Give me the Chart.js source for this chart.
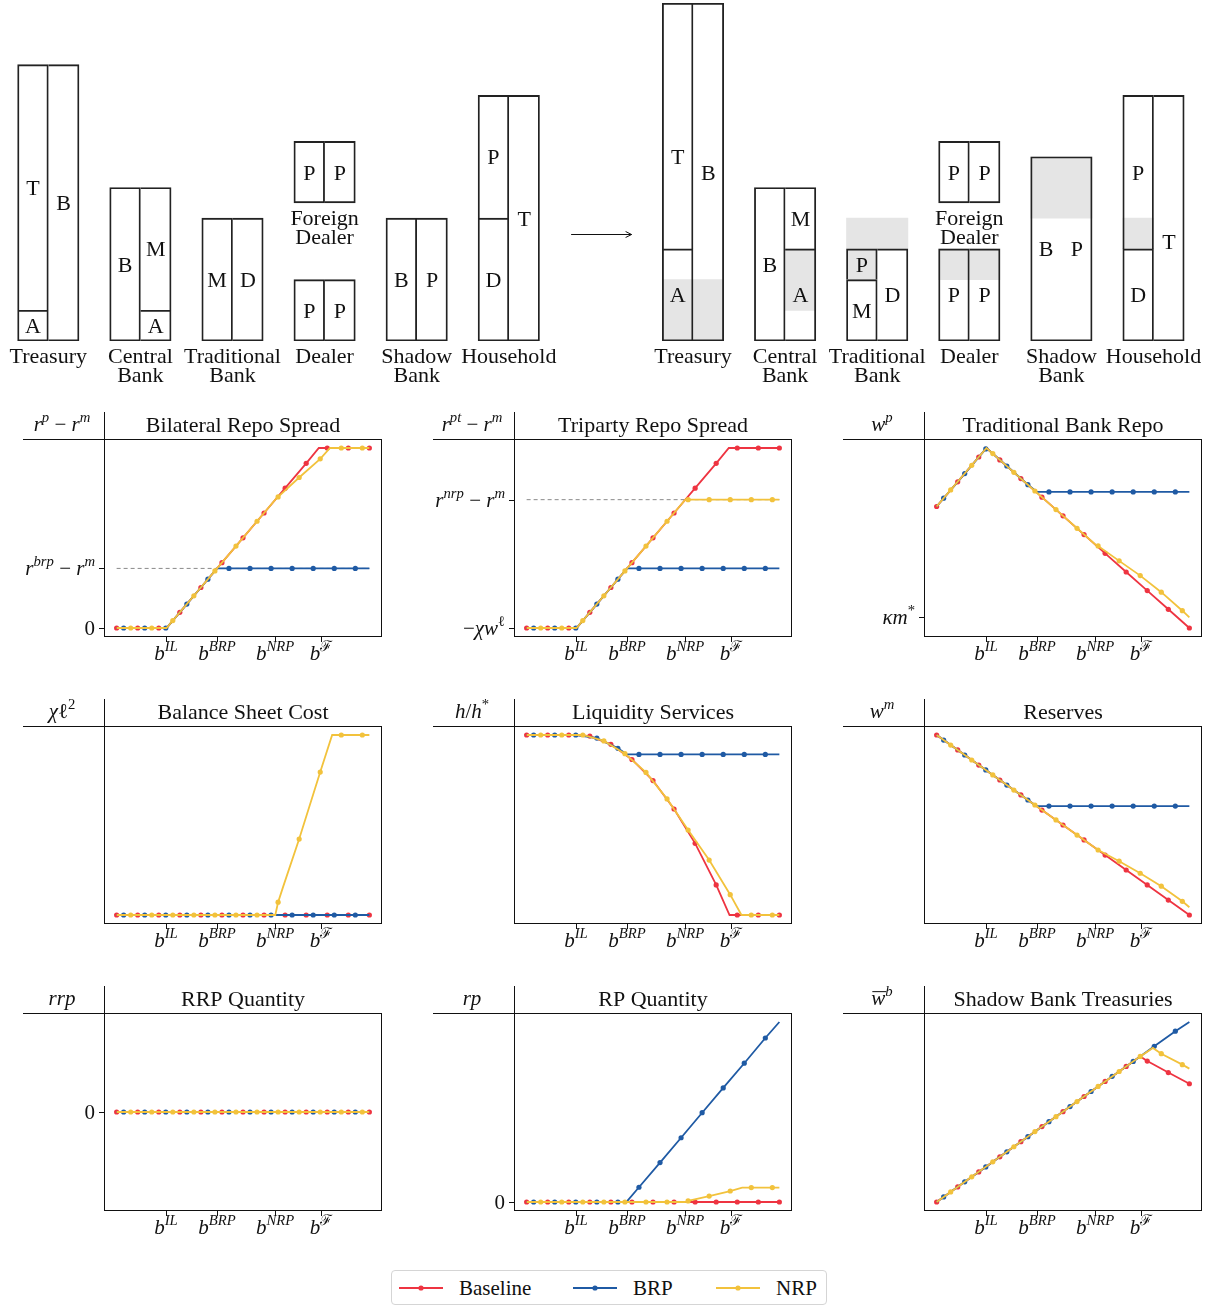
<!DOCTYPE html>
<html>
<head>
<meta charset="utf-8">
<title>Balance sheets and repo outcomes</title>
<script src="https://cdn.jsdelivr.net/npm/chart.js@4.4.1/dist/chart.umd.min.js"></script>
<style>
  body { margin: 0; background: #fff; }
  #page { position: relative; width: 1217px; height: 1309px; overflow: hidden; background: #fff; }
  #page canvas { position: absolute; }
  #legend { position: absolute; left: 391px; top: 1270px; width: 434px; height: 33px;
            border: 1px solid #d5d5d5; border-radius: 4px;
            font: 21px "Liberation Serif", serif; color: #111; }
  #legend .item { position: absolute; top: 0; height: 33px; }
  #legend svg { position: absolute; left: 0; top: 12px; }
  #legend span { position: absolute; left: 60px; top: 5px; white-space: nowrap; }
</style>
</head>
<body>
<div id="page">
  <canvas id="sheets" width="1217" height="400" style="left:0;top:0"></canvas>
  <canvas id="p1" width="397" height="272" style="left:0;top:399px"></canvas>
  <canvas id="p2" width="397" height="272" style="left:410px;top:399px"></canvas>
  <canvas id="p3" width="397" height="272" style="left:820px;top:399px"></canvas>
  <canvas id="p4" width="397" height="272" style="left:0;top:686px"></canvas>
  <canvas id="p5" width="397" height="272" style="left:410px;top:686px"></canvas>
  <canvas id="p6" width="397" height="272" style="left:820px;top:686px"></canvas>
  <canvas id="p7" width="397" height="272" style="left:0;top:973px"></canvas>
  <canvas id="p8" width="397" height="272" style="left:410px;top:973px"></canvas>
  <canvas id="p9" width="397" height="272" style="left:820px;top:973px"></canvas>
  <div id="legend"></div>
</div>
<script>
// ---- series / axes ----
const seriesNames = ['Baseline', 'BRP', 'NRP'];
const seriesColors = ['#ee3441', '#1f5aa4', '#f2c23c'];
const xTickVals = [7.1, 14.3, 22.6, 29.05];
const xTickText = ['b^{IL}', 'b^{BRP}', 'b^{NRP}', 'b^{ℱ}'];
const panelTitles = ['Bilateral Repo Spread', 'Triparty Repo Spread', 'Traditional Bank Repo',
  'Balance Sheet Cost', 'Liquidity Services', 'Reserves',
  'RRP Quantity', 'RP Quantity', 'Shadow Bank Treasuries'];
const panelYLabels = ['r^{p} − r^{m}', 'r^{pt} − r^{m}', 'w^{p}',
  'χℓ^{2}', 'h/h^{*}', 'w^{m}', 'rrp', 'rp', '‾w^{b}'];

// markers: Baseline at 0,3,..,36 / BRP at 1,4,..,34 / NRP at 2,5,..,35; kinks are unmarked vertices
const bilatBase = [0, 0, 0, 8.7, 22.5, 36.3, 50.1, 63.9, 77.7, 91.5, 100, 100, 100];
const bilatBaseKinks = [[7.1, 0], [28.8, 100]];
const bilatBrp = [0, 0, 0, 13.3, 27.1, 33.1, 33.1, 33.1, 33.1, 33.1, 33.1, 33.1];
const bilatBrpKinks = [[0, 0], [7.1, 0], [14.3, 33.1], [36, 33.1]];
const bilatNrp = [0, 0, 4.1, 17.9, 31.7, 45.5, 59.3, 72.8, 83.6, 94.0, 100, 100];
const bilatNrpKinks = [[0, 0], [7.1, 0], [22.6, 71.3], [30.4, 100], [36, 100]];
const bilatRef = 33.1;

const triBase = [0, 0, 0, 8.7, 22.5, 36.3, 50.1, 63.9, 77.7, 91.5, 100, 100, 100];
const triBaseKinks = [[7.1, 0], [28.8, 100]];
const triBrp = [0, 0, 0, 13.3, 27.1, 33.1, 33.1, 33.1, 33.1, 33.1, 33.1, 33.1];
const triBrpKinks = [[0, 0], [7.1, 0], [14.3, 33.1], [36, 33.1]];
const triNrp = [0, 0, 4.1, 17.9, 31.7, 45.5, 59.3, 71.3, 71.3, 71.3, 71.3, 71.3];
const triNrpKinks = [[0, 0], [7.1, 0], [22.6, 71.3], [36, 71.3]];
const triRef = 71.3;

const repoBase = [67.5, 81.2, 95.0, 93.4, 83.0, 72.7, 62.3, 51.9, 41.5, 31.1, 20.8, 10.4, 0];
const repoBaseKinks = [[7.1, 100]];
const repoBrp = [72.1, 85.8, 99.5, 90.0, 79.6, 75.6, 75.6, 75.6, 75.6, 75.6, 75.6, 75.6];
const repoBrpKinks = [[0, 67.5], [7.1, 100], [14.3, 75.6], [36, 75.6]];
const repoNrp = [76.7, 90.4, 96.9, 86.5, 76.1, 65.8, 55.4, 45.6, 37.3, 29.1, 19.9, 9.6];
const repoNrpKinks = [[0, 67.5], [7.1, 100], [22.6, 46.4], [36, 5.9]];
const repoTick = 5.9;

const costBase = [0, 0, 0, 0, 0, 0, 0, 0, 0, 0, 0, 0, 0];
const costBrp = [0, 0, 0, 0, 0, 0, 0, 0, 0, 0, 0, 0];
const costBrpKinks = [[0, 0], [36, 0]];
const costNrp = [0, 0, 0, 0, 0, 0, 0, 7.1, 42.2, 79.4, 100, 100];
const costNrpKinks = [[0, 0], [22.6, 0], [23.7, 15.5], [30.7, 100], [36, 100]];

const liqBase = [100, 100, 100, 99.4, 94.8, 86.4, 74.7, 58.9, 39.8, 16.7, 0, 0, 0];
const liqBaseKinks = [[7.1, 100], [28.9, 0]];
const liqBrp = [100, 100, 100, 98.3, 92.6, 89.2, 89.2, 89.2, 89.2, 89.2, 89.2, 89.2];
const liqBrpKinks = [[0, 100], [7.1, 100], [14.3, 89.2], [36, 89.2]];
const liqNrp = [100, 100, 100, 96.7, 89.6, 79.2, 64.5, 47.2, 30.5, 11.3, 0, 0];
const liqNrpKinks = [[0, 100], [7.1, 100], [30.6, 0], [36, 0]];

const resBase = [100, 91.7, 83.3, 75.0, 66.7, 58.3, 50.0, 41.7, 33.3, 25.0, 16.7, 8.3, 0];
const resBrp = [97.2, 88.9, 80.6, 72.2, 63.9, 60.5, 60.5, 60.5, 60.5, 60.5, 60.5, 60.5];
const resBrpKinks = [[0, 100], [14.2, 60.5], [36, 60.5]];
const resNrp = [94.4, 86.1, 77.8, 69.4, 61.1, 52.8, 44.4, 36.1, 29.9, 23.2, 16.0, 7.6];
const resNrpKinks = [[0, 100], [22.6, 37.2], [36, 4.3]];

const rrpBase = [0, 0, 0, 0, 0, 0, 0, 0, 0, 0, 0, 0, 0];
const rrpBrp = [0, 0, 0, 0, 0, 0, 0, 0, 0, 0, 0, 0];
const rrpNrp = [0, 0, 0, 0, 0, 0, 0, 0, 0, 0, 0, 0];
const rrpEnds = [[0, 0], [36, 0]];

const rpBase = [0, 0, 0, 0, 0, 0, 0, 0, 0, 0, 0, 0, 0];
const rpBrp = [0, 0, 0, 0, 0, 8.2, 21.9, 35.7, 49.6, 63.4, 77.1, 91.1];
const rpBrpKinks = [[0, 0], [14.2, 0], [36, 100]];
const rpNrp = [0, 0, 0, 0, 0, 0, 0, 0.6, 3.3, 6.1, 8.0, 8.0];
const rpNrpKinks = [[0, 0], [22.6, 0], [30.7, 8.0], [36, 8.0]];

const sbtBase = [0, 8.4, 16.7, 25.1, 33.5, 41.9, 50.2, 58.6, 67.0, 75.3, 78.3, 71.9, 65.7];
const sbtBaseKinks = [[29.0, 80.9]];
const sbtBrp = [2.8, 11.2, 19.5, 27.9, 36.3, 44.6, 53.0, 61.4, 69.8, 78.1, 86.5, 94.9];
const sbtBrpKinks = [[0, 0], [36, 100]];
const sbtNrp = [5.6, 14.0, 22.3, 30.7, 39.1, 47.4, 55.8, 64.2, 72.5, 80.9, 82.4, 76.3];
const sbtNrpKinks = [[0, 0], [30.8, 85.6], [36, 74.1]];

// ---- balance sheets: [entity, column (A assets / L liabilities), item, from, to, label level] ----
const sheetBefore = [
  ['Treasury', 'A', 'A', 0, 1], ['Treasury', 'A', 'T', 1, 9], ['Treasury', 'L', 'B', 0, 9],
  ['Central\nBank', 'A', 'B', 0, 5], ['Central\nBank', 'L', 'A', 0, 1], ['Central\nBank', 'L', 'M', 1, 5],
  ['Traditional\nBank', 'A', 'M', 0, 4], ['Traditional\nBank', 'L', 'D', 0, 4],
  ['Foreign\nDealer', 'A', 'P', 4.5, 6.5], ['Foreign\nDealer', 'L', 'P', 4.5, 6.5],
  ['Dealer', 'A', 'P', 0, 2], ['Dealer', 'L', 'P', 0, 2],
  ['Shadow\nBank', 'A', 'B', 0, 4], ['Shadow\nBank', 'L', 'P', 0, 4],
  ['Household', 'A', 'D', 0, 4], ['Household', 'A', 'P', 4, 8], ['Household', 'L', 'T', 0, 8]
];
const sheetAfter = [
  ['Treasury', 'A', 'A', 0, 3], ['Treasury', 'A', 'T', 3, 11, 6], ['Treasury', 'L', 'B', 0, 11],
  ['Central\nBank', 'A', 'B', 0, 5], ['Central\nBank', 'L', 'A', 0, 3], ['Central\nBank', 'L', 'M', 3, 5],
  ['Traditional\nBank', 'A', 'M', 0, 2], ['Traditional\nBank', 'A', 'P', 2, 3], ['Traditional\nBank', 'L', 'D', 0, 3],
  ['Foreign\nDealer', 'A', 'P', 4.5, 6.5], ['Foreign\nDealer', 'L', 'P', 4.5, 6.5],
  ['Dealer', 'A', 'P', 0, 3], ['Dealer', 'L', 'P', 0, 3],
  ['Shadow\nBank', 'A', 'B', 0, 6], ['Shadow\nBank', 'L', 'P', 0, 6],
  ['Household', 'A', 'D', 0, 3], ['Household', 'A', 'P', 3, 8], ['Household', 'L', 'T', 0, 8, 3.25]
];
const shadeAfter = [
  ['Treasury', 'AL', 0, 2], ['Central\nBank', 'L', 1, 3], ['Traditional\nBank', 'AL', 3, 4],
  ['Traditional\nBank', 'A', 2, 3], ['Dealer', 'AL', 2, 3], ['Shadow\nBank', 'AL', 4, 6], ['Household', 'A', 3, 4]
];
const openAfter = ['Shadow\nBank'];

// ---- drawing helpers ----
const INK = '#111';
const SERIF = '"Liberation Serif", "DejaVu Serif", serif';

function mathRuns(str) {
  const runs = [];
  let i = 0, bar = false;
  while (i < str.length) {
    const c = str[i];
    if (c === '^' && str[i + 1] === '{') {
      const j = str.indexOf('}', i);
      for (const ch of str.slice(i + 2, j)) runs.push({ch, sup: true});
      i = j + 1;
      continue;
    }
    if (c === '‾') { bar = true; i++; continue; }
    runs.push({ch: c, sup: false, bar});
    bar = false;
    i++;
  }
  return runs;
}

function drawMath(ctx, str, x, y, size, align) {
  const runs = mathRuns(str);
  let w = 0;
  runs.forEach(r => {
    const s = r.sup ? size * 0.7 : size;
    r.font = (/[A-Za-z\u03b1-\u03c9]/.test(r.ch) ? 'italic ' : '') + s + 'px ' + SERIF;
    ctx.font = r.font;
    r.w = ctx.measureText(r.ch).width;
    w += r.w;
  });
  let cx = align === 'center' ? x - w / 2 : align === 'right' ? x - w : x;
  ctx.textAlign = 'left';
  ctx.textBaseline = 'alphabetic';
  runs.forEach(r => {
    ctx.font = r.font;
    const yy = r.sup ? y - size * 0.42 : y;
    ctx.fillText(r.ch, cx, yy);
    if (r.bar) ctx.fillRect(cx + 1, yy - size * 0.66, r.w, 1);
    cx += r.w;
  });
}

function hline(ctx, x1, x2, y) {
  ctx.beginPath(); ctx.moveTo(x1, y + 0.5); ctx.lineTo(x2, y + 0.5); ctx.stroke();
}
function vline(ctx, x, y1, y2) {
  ctx.beginPath(); ctx.moveTo(x + 0.5, y1); ctx.lineTo(x + 0.5, y2); ctx.stroke();
}

function seriesPoints(vals, offset, kinks) {
  const pts = vals.map((v, i) => ({x: offset + 3 * i, y: v, m: true}));
  (kinks || []).forEach(k => {
    if (!pts.some(p => p.x === k[0])) pts.push({x: k[0], y: k[1], m: false});
  });
  return pts.sort((a, b) => a.x - b.x);
}

function panelDeco(title, ylab, yticks) {
  return {
    id: 'deco',
    afterDraw(chart) {
      const {ctx, chartArea: a, scales: {x, y}} = chart;
      ctx.save();
      ctx.strokeStyle = INK;
      ctx.fillStyle = INK;
      ctx.lineWidth = 1;
      ctx.strokeRect(a.left + 0.5, a.top + 0.5, a.right - a.left - 1, a.bottom - a.top - 1);
      hline(ctx, a.left - 81, a.right, a.top);
      vline(ctx, a.left, a.top - 27, a.top);
      xTickVals.forEach((v, i) => {
        const px = Math.round(x.getPixelForValue(v));
        vline(ctx, px, a.bottom, a.bottom + 5);
        drawMath(ctx, xTickText[i], px, a.bottom + 23, 21, 'center');
      });
      yticks.forEach(([v, s]) => {
        const py = Math.round(y.getPixelForValue(v));
        hline(ctx, a.left - 5, a.left, py);
        drawMath(ctx, s, a.left - 9, py + 7, 21, 'right');
      });
      ctx.font = '22px ' + SERIF;
      ctx.textAlign = 'center';
      ctx.textBaseline = 'alphabetic';
      ctx.fillText(title, (a.left + a.right) / 2, a.top - 7);
      drawMath(ctx, ylab, a.left - 42, a.top - 8, 21, 'center');
      ctx.restore();
    }
  };
}

function makePanel(id, idx, sets, yticks, ref, yRange) {
  const datasets = sets.map((s, k) => ({
    label: seriesNames[k],
    data: seriesPoints(s[0], k, s[1]),
    borderColor: seriesColors[k],
    backgroundColor: seriesColors[k],
    borderWidth: 1.8,
    pointRadius: c => (c.raw && c.raw.m) ? 2.6 : 0,
    pointBorderWidth: 0,
    tension: 0,
    order: 3 - k
  }));
  if (ref !== null) {
    datasets.push({
      label: 'ref', data: [{x: 0, y: ref}, {x: 36, y: ref}],
      borderColor: '#8a8a8a', borderWidth: 1, borderDash: [4, 3], pointRadius: 0, order: 5
    });
  }
  return new Chart(document.getElementById(id), {
    type: 'line',
    data: {datasets},
    options: {
      responsive: false, animation: false, devicePixelRatio: 1,
      layout: {padding: {left: 104, right: 15, top: 40, bottom: 34}},
      scales: {
        x: {type: 'linear', display: false, min: -1.8, max: 37.8},
        y: {type: 'linear', display: false, min: yRange[0], max: yRange[1]}
      },
      plugins: {legend: {display: false}, tooltip: {enabled: false}}
    },
    plugins: [panelDeco(panelTitles[idx], panelYLabels[idx], yticks)]
  });
}

const full = [-5, 105];
makePanel('p1', 0, [[bilatBase, bilatBaseKinks], [bilatBrp, bilatBrpKinks], [bilatNrp, bilatNrpKinks]],
  [[0, '0'], [bilatRef, 'r^{brp} − r^{m}']], bilatRef, full);
makePanel('p2', 1, [[triBase, triBaseKinks], [triBrp, triBrpKinks], [triNrp, triNrpKinks]],
  [[0, '−χw^{ℓ}'], [triRef, 'r^{nrp} − r^{m}']], triRef, full);
makePanel('p3', 2, [[repoBase, repoBaseKinks], [repoBrp, repoBrpKinks], [repoNrp, repoNrpKinks]],
  [[repoTick, 'κm^{*}']], null, full);
makePanel('p4', 3, [[costBase, []], [costBrp, costBrpKinks], [costNrp, costNrpKinks]], [], null, full);
makePanel('p5', 4, [[liqBase, liqBaseKinks], [liqBrp, liqBrpKinks], [liqNrp, liqNrpKinks]], [], null, full);
makePanel('p6', 5, [[resBase, []], [resBrp, resBrpKinks], [resNrp, resNrpKinks]], [], null, full);
makePanel('p7', 6, [[rrpBase, []], [rrpBrp, rrpEnds], [rrpNrp, rrpEnds]], [[0, '0']], null, [-1, 1]);
makePanel('p8', 7, [[rpBase, []], [rpBrp, rpBrpKinks], [rpNrp, rpNrpKinks]], [[0, '0']], null, full);
makePanel('p9', 8, [[sbtBase, sbtBaseKinks], [sbtBrp, sbtBrpKinks], [sbtNrp, sbtNrpKinks]], [], null, full);

// ---- balance sheet diagrams ----
const slotOf = {'Treasury': 0, 'Central\nBank': 1, 'Traditional\nBank': 2, 'Foreign\nDealer': 3,
  'Dealer': 3, 'Shadow\nBank': 4, 'Household': 5};
const UNIT = 30.7;
const BW = 1.2;
const sxMin = -17.6 / UNIT;
const sxMax = sxMin + 1217 / UNIT;

function colX(ent, side, shift) {
  return shift + 3 * slotOf[ent] + (side === 'A' ? 0.5 : side === 'L' ? 1.5 : 1);
}

const shade1 = [], shade2 = [], boxes = [], wideBoxes = [], itemLabels = [], namePlaces = [];
function addSheet(segs, shades, open, shift) {
  segs.forEach(s => {
    const [ent, side, lab, lo, hi, ly] = s;
    itemLabels.push({x: colX(ent, side, shift), y: ly !== undefined ? ly : (lo + hi) / 2, lab});
    if (open.includes(ent)) return;
    const below = segs.some(t => t[0] === ent && t[1] === side && t[4] === lo);
    boxes.push({
      x: colX(ent, side, shift), y: [lo, hi],
      bw: {top: BW, bottom: below ? 0 : BW, left: side === 'L' ? 0 : BW, right: BW}
    });
  });
  open.forEach(ent => {
    const own = segs.filter(s => s[0] === ent);
    wideBoxes.push({x: colX(ent, 'AL', shift),
      y: [Math.min(...own.map(s => s[3])), Math.max(...own.map(s => s[4]))]});
  });
  shades.forEach(([ent, side, lo, hi]) => {
    (side === 'AL' ? shade2 : shade1).push({x: colX(ent, side, shift), y: [lo, hi]});
  });
  [...new Set(segs.map(s => s[0]))].forEach(ent => {
    const lo = Math.min(...segs.filter(s => s[0] === ent).map(s => s[3]));
    namePlaces.push({x: shift + 3 * slotOf[ent] + 1, lo, name: ent});
  });
}
addSheet(sheetBefore, [], [], 0);
addSheet(sheetAfter, shadeAfter, openAfter, 21);

const sheetDeco = {
  id: 'sheetDeco',
  afterDatasetsDraw(chart) {
    const {ctx, scales: {x, y}} = chart;
    ctx.save();
    ctx.fillStyle = INK;
    ctx.strokeStyle = INK;
    ctx.textAlign = 'center';
    ctx.textBaseline = 'alphabetic';
    ctx.font = '22px ' + SERIF;
    itemLabels.forEach(d => {
      ctx.fillText(d.lab, x.getPixelForValue(d.x), y.getPixelForValue(d.y) + 7.5);
    });
    namePlaces.forEach(p => {
      const px = x.getPixelForValue(p.x);
      const py = y.getPixelForValue(p.lo);
      p.name.split('\n').forEach((line, i) => ctx.fillText(line, px, py + 22 + 19 * i));
    });
    // arrow between the two states
    const ax1 = x.getPixelForValue(18.03), ax2 = x.getPixelForValue(20.0);
    const ay = Math.round(y.getPixelForValue(3.5)) + 0.5;
    ctx.lineWidth = 1;
    ctx.beginPath();
    ctx.moveTo(ax1, ay); ctx.lineTo(ax2, ay);
    ctx.moveTo(ax2 - 6, ay - 3); ctx.lineTo(ax2, ay); ctx.lineTo(ax2 - 6, ay + 3);
    ctx.stroke();
    ctx.restore();
  }
};

new Chart(document.getElementById('sheets'), {
  type: 'bar',
  data: {
    datasets: [
      {data: shade1, backgroundColor: '#e5e5e5', borderWidth: 0, barThickness: UNIT, grouped: false, order: 4},
      {data: shade2, backgroundColor: '#e5e5e5', borderWidth: 0, barThickness: UNIT * 2, grouped: false, order: 3},
      {data: boxes, backgroundColor: 'rgba(0,0,0,0)', borderColor: '#222',
       borderWidth: c => (c.raw ? c.raw.bw : 0), borderSkipped: false,
       barThickness: UNIT, grouped: false, order: 2},
      {data: wideBoxes, backgroundColor: 'rgba(0,0,0,0)', borderColor: '#222',
       borderWidth: BW, borderSkipped: false, barThickness: UNIT * 2, grouped: false, order: 1}
    ]
  },
  options: {
    responsive: false, animation: false, devicePixelRatio: 1,
    layout: {padding: {left: 0, right: 0, top: 0, bottom: 59}},
    scales: {
      x: {type: 'linear', display: false, offset: false, grid: {offset: false}, min: sxMin, max: sxMax},
      y: {type: 'linear', display: false, min: 0, max: 341 / UNIT}
    },
    plugins: {legend: {display: false}, tooltip: {enabled: false}}
  },
  plugins: [sheetDeco]
});

// ---- legend ----
const legendLefts = [7, 181, 324];
const legend = document.getElementById('legend');
seriesNames.forEach((name, k) => {
  const item = document.createElement('div');
  item.className = 'item';
  item.style.left = legendLefts[k] + 'px';
  item.innerHTML = '<svg width="44" height="10"><line x1="0" y1="5" x2="44" y2="5" stroke="' +
    seriesColors[k] + '" stroke-width="2"/><circle cx="22" cy="5" r="2.6" fill="' + seriesColors[k] +
    '"/></svg><span>' + name + '</span>';
  legend.appendChild(item);
});
</script>
</body>
</html>
